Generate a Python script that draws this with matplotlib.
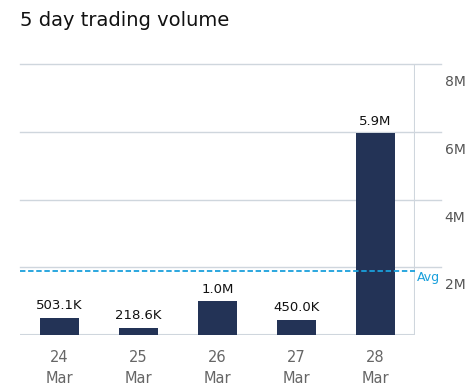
import matplotlib.pyplot as plt
import matplotlib.transforms as mtransforms

plt.rcParams['font.family'] = ['DejaVu Sans']

days = ["24\nMar", "25\nMar", "26\nMar", "27\nMar", "28\nMar"]
volume = [503100, 218600, 1000000, 450000, 5950000]
labels = ["503.1K", "218.6K", "1.0M", "450.0K", "5.9M"]
avg = 1900000
yticks = [2000000, 4000000, 6000000, 8000000]
ytick_labels = ["2M", "4M", "6M", "8M"]

bar_color = "#233356"
grid_color = "#cfd6dd"
avg_color = "#1aa0dc"

fig = plt.figure(figsize=(4.76, 3.92), dpi=100)
ax = fig.add_axes([20 / 476, 57 / 392, 395 / 476, 271 / 392])

x = list(range(len(days)))
ax.bar(x, volume, width=0.5, color=bar_color, zorder=3)
for xi, v, lab in zip(x, volume, labels):
    ax.annotate(lab, (xi, v), xytext=(0, 4), textcoords="offset points",
                ha="center", va="bottom", fontsize=9.5, color="#111111")

ax.set_xlim(-0.5, 4.5)
ax.set_ylim(0, 8000000)

# horizontal gridlines extending past the right edge
for t in yticks:
    ax.plot([0, 1.066], [t, t], transform=ax.get_yaxis_transform(),
            color=grid_color, lw=1, clip_on=False, zorder=1)
ax.axhline(0, color=grid_color, lw=1.5, zorder=2)
ax.axvline(4.5, color=grid_color, lw=1.5, zorder=2)

# tick labels below gridlines on the right
offset = mtransforms.ScaledTranslation(0, -8 / 72, fig.dpi_scale_trans)
for t, lab in zip(yticks, ytick_labels):
    ax.text(1.075, t, lab, transform=ax.get_yaxis_transform() + offset,
            ha="left", va="top", fontsize=10, color="#555555")

ax.axhline(avg, color=avg_color, lw=1.3, ls=(0, (3, 1.5)), zorder=4)
ax.text(1.005, avg, "Avg", transform=ax.get_yaxis_transform(),
        ha="left", va="top", fontsize=9, color=avg_color)

ax.set_xticks(x)
ax.set_xticklabels(days, fontsize=10.5, color="#666666", linespacing=1.45)
ax.tick_params(axis="x", length=0, pad=11)
ax.set_yticks([])
for s in ax.spines.values():
    s.set_visible(False)

fig.text(20 / 476, 1 - 20 / 392, "5 day trading volume", fontsize=14,
         ha="left", va="center", color="#111111")

fig.savefig("out.png", dpi=100)
